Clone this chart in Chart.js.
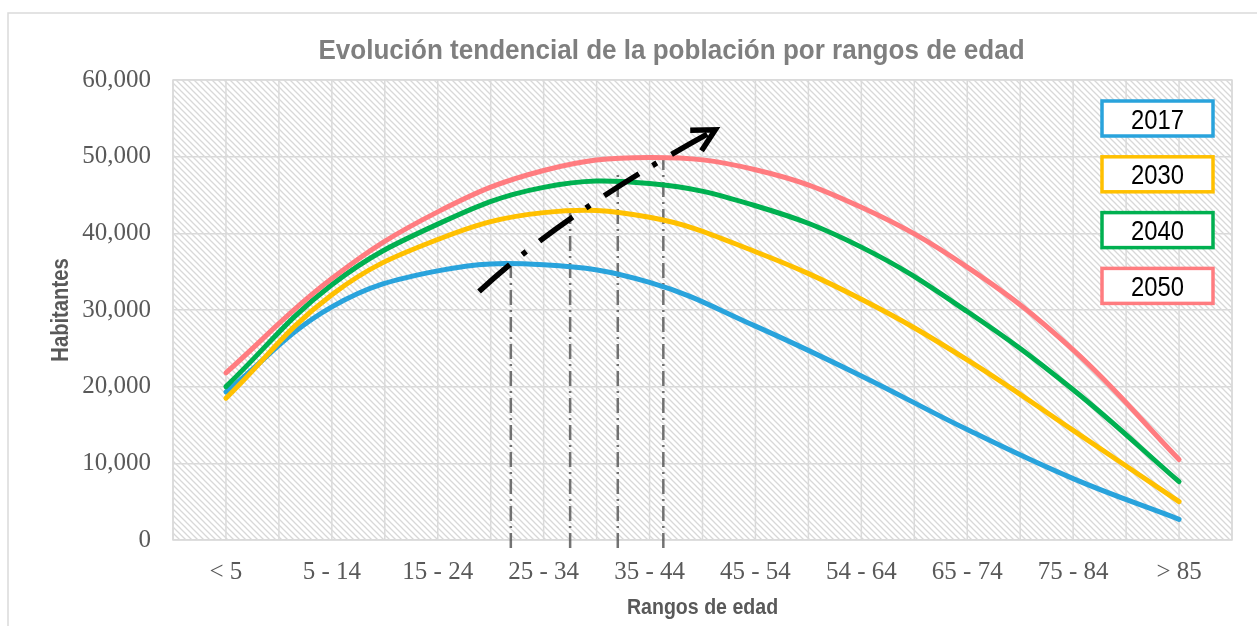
<!DOCTYPE html>
<html>
<head>
<meta charset="utf-8">
<title>Evolución tendencial de la población por rangos de edad</title>
<script src="https://cdn.jsdelivr.net/npm/chart.js@4.4.1/dist/chart.umd.min.js"></script>
<style>
  html, body { margin: 0; padding: 0; background: #ffffff; }
  canvas { display: block; }
</style>
</head>
<body>
<canvas id="chart" width="1257" height="626"></canvas>
<script>
// Age bands on the category axis
const ageRanges = ['< 5', '5 - 14', '15 - 24', '25 - 34', '35 - 44', '45 - 54', '54 - 64', '65 - 74', '75 - 84', '> 85'];
const years = ['2017', '2030', '2040', '2050'];

// Inhabitants per age band, one series per year
const pop2017 = [19300, 30400, 35100, 35900, 33600, 27900, 21400, 14400, 8000, 2700];
const pop2030 = [18500, 32000, 39200, 42700, 42100, 37600, 31400, 23500, 14300, 5000];
const pop2040 = [20000, 33300, 41200, 46000, 46500, 43600, 38200, 29800, 19600, 7600];
const pop2050 = [21800, 34100, 42800, 48200, 49900, 48300, 43400, 35600, 24800, 10500];

// Value axis ticks
const yTicks = [0, 10000, 20000, 30000, 40000, 50000, 60000];

// Where each curve tops out (position along the age axis, value)
const peakPos = [2.69, 3.25, 3.70, 4.13];
const peakVal = [36000, 44000, 47600, 50000];

// Trend arrow: start, bend and tip (position along the age axis, value)
const arrowStart = [2.39, 32400];
const arrowBend = [3.19, 42650];
const arrowTip = [4.62, 53500];

const seriesColors = ['#29a3dc', '#ffc000', '#00b050', '#ff7c80'];
const seriesData = [pop2017, pop2030, pop2040, pop2050];

const GRID = '#dadada';
const TICK_FONT = { family: '"Liberation Serif", "Times New Roman", serif', size: 25 };

function makeHatch() {
  const s = 6;
  const c = document.createElement('canvas');
  c.width = s; c.height = s;
  const g = c.getContext('2d');
  g.fillStyle = '#ffffff';
  g.fillRect(0, 0, s, s);
  g.strokeStyle = '#d8d8d8';
  g.lineWidth = 1.3;
  g.beginPath();
  for (const k of [-1, 0, 1]) {
    g.moveTo(-1, -1 + k * s);
    g.lineTo(s + 1, s + 1 + k * s);
  }
  g.stroke();
  return c;
}

function drawLabel(ctx, text, x, y, o) {
  ctx.save();
  ctx.translate(x, y);
  if (o.rotate) ctx.rotate(o.rotate);
  ctx.scale(o.sx || 1, 1);
  ctx.font = o.font;
  ctx.fillStyle = o.color;
  ctx.textAlign = 'center';
  ctx.textBaseline = 'alphabetic';
  ctx.fillText(text, 0, 0);
  ctx.restore();
}

const decorPlugin = {
  id: 'decor',
  beforeDraw(chart) {
    const { ctx, chartArea: a } = chart;
    ctx.save();
    // outer frame (top and left edges)
    ctx.strokeStyle = GRID;
    ctx.lineWidth = 1.5;
    ctx.beginPath();
    ctx.moveTo(8, chart.height + 2);
    ctx.lineTo(8, 13);
    ctx.lineTo(chart.width + 2, 13);
    ctx.stroke();
    // hatched plot background
    ctx.fillStyle = ctx.createPattern(makeHatch(), 'repeat');
    ctx.fillRect(a.left, a.top, a.right - a.left, a.bottom - a.top);
    ctx.restore();
  },
  beforeDatasetsDraw(chart) {
    const { ctx, chartArea: a, scales: { x, y } } = chart;
    ctx.save();
    // vertical grid: band centres and band edges
    ctx.strokeStyle = GRID;
    ctx.lineWidth = 1.5;
    ctx.beginPath();
    for (let i = 0; i < ageRanges.length; i++) {
      const px = x.getPixelForValue(i);
      ctx.moveTo(px, a.top); ctx.lineTo(px, a.bottom);
    }
    for (let i = 0; i <= ageRanges.length; i++) {
      const px = x.getPixelForValue(i - 0.5);
      ctx.moveTo(px, a.top); ctx.lineTo(px, a.bottom);
    }
    ctx.stroke();
    ctx.strokeRect(a.left, a.top, a.right - a.left, a.bottom - a.top);

    // dash-dot drop lines from each peak
    ctx.strokeStyle = 'rgba(90,90,90,0.85)';
    ctx.lineWidth = 2.5;
    ctx.setLineDash([15, 5, 2, 5]);
    for (let i = 0; i < peakPos.length; i++) {
      const px = x.getPixelForValue(peakPos[i]);
      ctx.beginPath();
      ctx.moveTo(px, a.bottom + 8);
      ctx.lineTo(px, y.getPixelForValue(peakVal[i]));
      ctx.stroke();
    }
    ctx.restore();
  },
  afterDatasetsDraw(chart) {
    const { ctx, scales: { x, y } } = chart;
    const P = (p) => [x.getPixelForValue(p[0]), y.getPixelForValue(p[1])];
    const s = P(arrowStart), b = P(arrowBend), t = P(arrowTip);
    ctx.save();
    ctx.strokeStyle = '#000000';
    ctx.lineWidth = 5.5;
    ctx.lineCap = 'butt';
    ctx.setLineDash([41, 16, 5, 17]);
    ctx.beginPath();
    ctx.moveTo(s[0], s[1]);
    ctx.quadraticCurveTo(b[0], b[1], t[0] - 4, t[1] + 2);
    ctx.stroke();
    // open arrowhead
    ctx.setLineDash([]);
    const ang = Math.atan2(t[1] - b[1], t[0] - b[0]) + Math.PI;
    const len = 25, spread = 0.49;
    ctx.lineJoin = 'miter';
    ctx.beginPath();
    ctx.moveTo(t[0] + len * Math.cos(ang + spread), t[1] + len * Math.sin(ang + spread));
    ctx.lineTo(t[0], t[1]);
    ctx.lineTo(t[0] + len * Math.cos(ang - spread), t[1] + len * Math.sin(ang - spread));
    ctx.stroke();
    ctx.restore();
  },
  afterDraw(chart) {
    const { ctx, chartArea: a } = chart;
    const cx = (a.left + a.right) / 2, cy = (a.top + a.bottom) / 2;
    // title
    drawLabel(ctx, 'Evolución tendencial de la población por rangos de edad', 671.5, 58.5,
      { font: 'bold 28px "Liberation Sans", Arial, sans-serif', color: '#7f7f7f', sx: 0.93 });
    // axis titles
    drawLabel(ctx, 'Rangos de edad', cx, 613.5,
      { font: 'bold 22px "Liberation Sans", Arial, sans-serif', color: '#595959', sx: 0.89 });
    drawLabel(ctx, 'Habitantes', 68, cy,
      { font: 'bold 23px "Liberation Sans", Arial, sans-serif', color: '#595959', sx: 0.88, rotate: -Math.PI / 2 });
    // series key
    ctx.save();
    for (let i = 0; i < years.length; i++) {
      const top = 101 + i * 55.8;
      ctx.fillStyle = '#ffffff';
      ctx.fillRect(1102, top, 111, 35);
      ctx.strokeStyle = seriesColors[i];
      ctx.lineWidth = 3.5;
      ctx.strokeRect(1102, top, 111, 35);
      drawLabel(ctx, years[i], 1157.5, top + 27.5,
        { font: '28px "Liberation Sans", Arial, sans-serif', color: '#000000', sx: 0.85 });
    }
    ctx.restore();
  }
};

new Chart(document.getElementById('chart'), {
  type: 'line',
  data: {
    labels: ageRanges,
    datasets: years.map((yr, i) => ({
      label: yr,
      data: seriesData[i],
      borderColor: seriesColors[i],
      backgroundColor: seriesColors[i],
      borderWidth: 5,
      tension: 0.4,
      pointRadius: 0,
      borderCapStyle: 'round',
      borderJoinStyle: 'round',
      fill: false,
      order: years.length - i
    }))
  },
  options: {
    responsive: false,
    animation: false,
    devicePixelRatio: 1,
    layout: { padding: { top: 80, right: 25, left: 0, bottom: 0 } },
    plugins: {
      legend: { display: false },
      title: { display: false },
      tooltip: { enabled: false }
    },
    scales: {
      x: {
        type: 'category',
        offset: true,
        grid: { display: false, drawTicks: false },
        border: { display: false },
        ticks: { font: TICK_FONT, color: '#595959', padding: 17, maxRotation: 0, autoSkip: false },
        afterFit(scale) { scale.height = 86; }
      },
      y: {
        min: 0,
        max: 60000,
        afterBuildTicks(scale) { scale.ticks = yTicks.map(v => ({ value: v })); },
        grid: { color: GRID, lineWidth: 1.5, drawTicks: false },
        border: { display: false },
        ticks: {
          font: TICK_FONT,
          color: '#595959',
          padding: 22,
          callback: (v) => Number(v).toLocaleString('en-US')
        },
        afterFit(scale) { scale.width = 173; }
      }
    }
  },
  plugins: [decorPlugin]
});
</script>
</body>
</html>
